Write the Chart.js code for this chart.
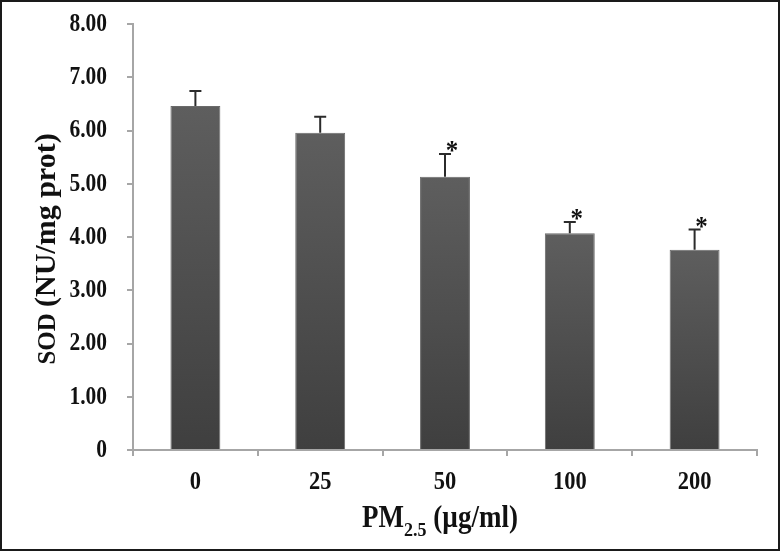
<!DOCTYPE html>
<html>
<head>
<meta charset="utf-8">
<script src="https://cdn.jsdelivr.net/npm/chart.js@4.4.1/dist/chart.umd.min.js"></script>
<style>
  html, body { margin: 0; padding: 0; background: #fff; }
  canvas { display: block; }
</style>
</head>
<body>
<canvas id="sodChart" width="780" height="551"></canvas>
<script>
// SOD activity vs PM2.5 dose
const doses = ['0', '25', '50', '100', '200'];
const sodMeans = [6.46, 5.96, 5.13, 4.07, 3.76];
const sodErrors = [0.28, 0.30, 0.43, 0.21, 0.38];
const significant = [false, false, true, true, true];
const yTickLabels = ['0', '1.00', '2.00', '3.00', '4.00', '5.00', '6.00', '7.00', '8.00'];

const serif = "'Liberation Serif', 'Times New Roman', serif";
const axisGray = '#a6a6a6';
const textColor = '#111';

// vertical gradient per bar, lighter at the top
function barFill(context) {
    const chart = context.chart;
    const y = chart.scales.y;
    if (!chart.chartArea || !y) return '#555555';
    const top = y.getPixelForValue(sodMeans[context.dataIndex]);
    const bottom = y.getPixelForValue(0);
    const g = chart.ctx.createLinearGradient(0, top, 0, bottom);
    g.addColorStop(0, '#5e5e5e');
    g.addColorStop(1, '#3f3f3f');
    return g;
}

// the original's Times text is drawn taller than wide, so stretch it vertically
function tallText(ctx, text, x, y, size, sy, align, baseline) {
    ctx.save();
    ctx.translate(x, y);
    ctx.scale(1, sy);
    ctx.font = 'bold ' + size + 'px ' + serif;
    ctx.textAlign = align;
    ctx.textBaseline = baseline;
    ctx.fillStyle = textColor;
    ctx.fillText(text, 0, 0);
    ctx.restore();
}

const extrasPlugin = {
    id: 'extras',
    afterDatasetsDraw(chart) {
        const ctx = chart.ctx;
        const y = chart.scales.y;
        const meta = chart.getDatasetMeta(0);
        ctx.save();
        ctx.strokeStyle = '#2b2b2b';
        ctx.lineWidth = 2;
        meta.data.forEach((bar, i) => {
            const top = y.getPixelForValue(sodMeans[i] + sodErrors[i]);
            ctx.beginPath();
            ctx.moveTo(bar.x, bar.y);
            ctx.lineTo(bar.x, top);
            ctx.moveTo(bar.x - 6, top);
            ctx.lineTo(bar.x + 6, top);
            ctx.stroke();
            if (significant[i]) {
                tallText(ctx, '*', bar.x + 7, top + 5, 25, 1.1, 'center', 'alphabetic');
            }
        });
        ctx.restore();
    },
    afterDraw(chart) {
        const ctx = chart.ctx;
        const xs = chart.scales.x;
        const ys = chart.scales.y;

        // tick labels
        ys.ticks.forEach((t, i) => {
            tallText(ctx, yTickLabels[i], 107, ys.getPixelForValue(t.value), 21.5, 1.22, 'right', 'middle');
        });
        doses.forEach((d, i) => {
            tallText(ctx, d, xs.getPixelForValue(i), 489, 22.5, 1.1, 'center', 'alphabetic');
        });

        ctx.save();
        ctx.fillStyle = textColor;
        ctx.textBaseline = 'alphabetic';
        ctx.textAlign = 'left';

        // y title: small "SOD" + "(NU/mg prot)"
        ctx.save();
        ctx.translate(55, 249);
        ctx.rotate(-Math.PI / 2);
        ctx.font = 'bold 25px ' + serif;
        const w1 = ctx.measureText('SOD ').width;
        ctx.font = 'bold 30px ' + serif;
        const w2 = ctx.measureText('(NU/mg prot)').width;
        const x0 = -(w1 + w2) / 2;
        ctx.font = 'bold 25px ' + serif;
        ctx.fillText('SOD ', x0, 0);
        ctx.font = 'bold 30px ' + serif;
        ctx.fillText('(NU/mg prot)', x0 + w1, 0);
        ctx.restore();

        // x title: PM2.5 (µg/ml) with subscript
        ctx.font = 'bold 27px ' + serif;
        const a = ctx.measureText('PM').width;
        const c = ctx.measureText(' (\u00b5g/ml)').width;
        ctx.font = 'bold 18px ' + serif;
        const b = ctx.measureText('2.5').width;
        const left = 440 - (a + b + c) / 2;
        tallText(ctx, 'PM', left, 527, 27, 1.15, 'left', 'alphabetic');
        tallText(ctx, '2.5', left + a, 536, 18, 1.1, 'left', 'alphabetic');
        tallText(ctx, ' (\u00b5g/ml)', left + a + b, 527, 27, 1.15, 'left', 'alphabetic');

        // outer frame
        ctx.strokeStyle = '#1a1a1a';
        ctx.lineWidth = 2;
        ctx.strokeRect(1, 1, chart.width - 2, chart.height - 2);
        ctx.restore();
    }
};

new Chart(document.getElementById('sodChart').getContext('2d'), {
    type: 'bar',
    data: {
        labels: doses,
        datasets: [{
            label: 'SOD',
            data: sodMeans,
            backgroundColor: barFill,
            borderColor: '#6a6a6a',
            borderWidth: 1,
            categoryPercentage: 1.0,
            barPercentage: 0.4
        }]
    },
    options: {
        responsive: false,
        animation: false,
        layout: { padding: { top: 24, right: 23, left: 0, bottom: 0 } },
        plugins: {
            legend: { display: false },
            tooltip: { enabled: false }
        },
        scales: {
            x: {
                afterFit: scale => { scale.height = 101; },
                grid: {
                    display: true,
                    drawOnChartArea: false,
                    drawTicks: true,
                    tickLength: 6,
                    offset: true,
                    color: axisGray,
                    lineWidth: 2
                },
                border: { display: true, color: axisGray, width: 2 },
                ticks: { display: false }
            },
            y: {
                min: 0,
                max: 8,
                afterFit: scale => { scale.width = 133; },
                grid: {
                    display: true,
                    drawOnChartArea: false,
                    drawTicks: true,
                    tickLength: 6,
                    color: axisGray,
                    lineWidth: 2
                },
                border: { display: true, color: axisGray, width: 2 },
                ticks: { display: false, stepSize: 1 }
            }
        }
    },
    plugins: [extrasPlugin]
});
</script>
</body>
</html>
